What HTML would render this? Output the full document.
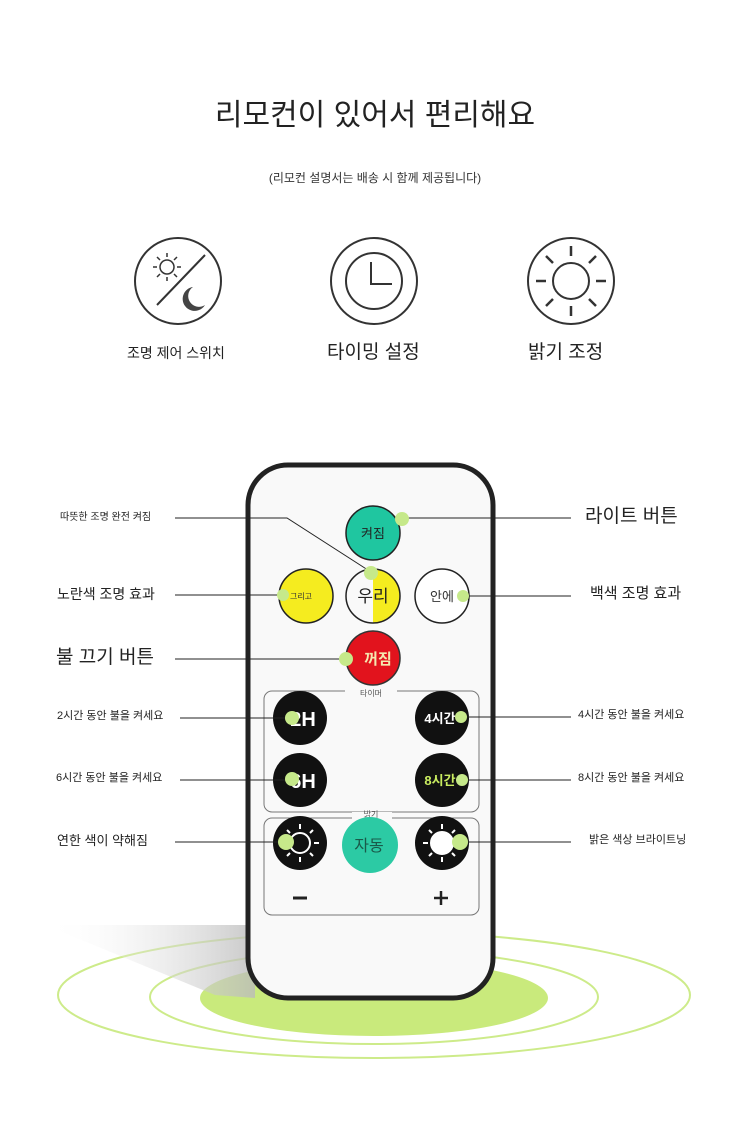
<!DOCTYPE html>
<html><head><meta charset="utf-8"><style>
html,body{margin:0;padding:0;background:#fff;}
body{width:750px;height:1144px;position:relative;overflow:hidden;font-family:"Liberation Sans","Noto Sans CJK KR","NanumGothic",sans-serif;color:#222;}
.t{position:absolute;white-space:nowrap;line-height:1;}
</style></head><body>
<div class="t" style="left:0;width:750px;text-align:center;top:101px;font-size:30px;color:#222;">리모컨이 있어서 편리해요</div>
<div class="t" style="left:0;width:750px;text-align:center;top:172px;font-size:12px;color:#333;">(리모컨 설명서는 배송 시 함께 제공됩니다)</div>
<div class="t" style="left:127px;top:346px;font-size:14px;">조명 제어 스위치</div>
<div class="t" style="left:327px;top:343px;font-size:19px;">타이밍 설정</div>
<div class="t" style="left:528px;top:343px;font-size:19px;">밝기 조정</div>

<svg width="750" height="1144" style="position:absolute;left:0;top:0" xmlns="http://www.w3.org/2000/svg">
<defs><linearGradient id="sh" x1="0" x2="1" y1="0" y2="0"><stop offset="0" stop-color="#fff" stop-opacity="0"/><stop offset="1" stop-color="#bbb"/></linearGradient></defs>
<g fill="none" stroke="#333" stroke-width="2">
<circle cx="178" cy="281" r="43"/>
<circle cx="374" cy="281" r="43"/>
<circle cx="571" cy="281" r="43"/>
<line x1="157" y1="305" x2="205" y2="255"/>
<circle cx="167" cy="267" r="7" stroke-width="1.5"/>
<g stroke-width="1.5"><line x1="167" y1="253" x2="167" y2="257"/><line x1="167" y1="277" x2="167" y2="281"/><line x1="153" y1="267" x2="157" y2="267"/><line x1="177" y1="267" x2="181" y2="267"/><line x1="157" y1="257" x2="160" y2="260"/><line x1="174" y1="274" x2="177" y2="277"/><line x1="157" y1="277" x2="160" y2="274"/><line x1="174" y1="260" x2="177" y2="257"/></g>
<circle cx="374" cy="281" r="28"/>
<polyline points="371,262 371,284 392,284"/>
<circle cx="571" cy="281" r="18"/>
<g stroke-width="2.5"><line x1="571" y1="246" x2="571" y2="256"/><line x1="571" y1="306" x2="571" y2="316"/><line x1="536" y1="281" x2="546" y2="281"/><line x1="596" y1="281" x2="606" y2="281"/><line x1="546" y1="256" x2="553" y2="263"/><line x1="589" y1="299" x2="596" y2="306"/><line x1="546" y1="306" x2="553" y2="299"/><line x1="589" y1="263" x2="596" y2="256"/></g>
</g>
<path d="M193 287 A12 12 0 1 0 205 305 A10 10 0 0 1 193 287Z" fill="#444"/>

<!-- ground -->
<ellipse cx="374" cy="995" rx="316" ry="63" fill="none" stroke="#cdeb8a" stroke-width="2"/>
<ellipse cx="374" cy="997" rx="224" ry="47" fill="none" stroke="#cdeb8a" stroke-width="2"/>
<ellipse cx="374" cy="998" rx="174" ry="38" fill="#c9ea7c"/>
<polygon points="45,925 255,925 255,998 215,995" fill="url(#sh)" opacity="0.8"/>

<!-- remote -->
<rect x="248" y="465" width="245" height="533" rx="40" fill="#f9f9f9" stroke="#222" stroke-width="5"/>
<rect x="264" y="691" width="215" height="121" rx="8" fill="none" stroke="#777" stroke-width="1"/>
<rect x="264" y="818" width="215" height="97" rx="8" fill="none" stroke="#777" stroke-width="1"/>
<rect x="345" y="686" width="52" height="10" fill="#f9f9f9"/>
<rect x="352" y="812" width="40" height="10" fill="#f9f9f9"/>
<text x="371" y="696" font-size="8" text-anchor="middle" fill="#555">타이머</text>
<text x="371" y="817" font-size="8" text-anchor="middle" fill="#555">밝기</text>

<circle cx="373" cy="533" r="27" fill="#1fc6a0" stroke="#222" stroke-width="1.5"/>
<circle cx="306" cy="596" r="27" fill="#f5ec1f" stroke="#222" stroke-width="1.5"/>
<path d="M373 569 A27 27 0 0 1 373 623Z" fill="#f5ec1f"/>
<circle cx="373" cy="596" r="27" fill="none" stroke="#222" stroke-width="1.5"/>
<circle cx="442" cy="596" r="27" fill="#fff" stroke="#222" stroke-width="1.5"/>
<circle cx="373" cy="658" r="27" fill="#e2131d" stroke="#333" stroke-width="1.5"/>
<circle cx="300" cy="718" r="27" fill="#111"/>
<circle cx="442" cy="718" r="27" fill="#111"/>
<circle cx="300" cy="780" r="27" fill="#111"/>
<circle cx="442" cy="780" r="27" fill="#111"/>
<circle cx="300" cy="843" r="27" fill="#111"/>
<circle cx="370" cy="845" r="28" fill="#2ccaa4"/>
<circle cx="442" cy="843" r="27" fill="#111"/>
<g stroke="#fff" stroke-width="2">
<circle cx="300" cy="843" r="10" fill="none"/>
<circle cx="442" cy="843" r="11" fill="#fff"/>
<g transform="translate(300,843)"><line x1="0" y1="-14" x2="0" y2="-19"/><line x1="0" y1="14" x2="0" y2="19"/><line x1="-14" y1="0" x2="-19" y2="0"/><line x1="14" y1="0" x2="19" y2="0"/><line x1="10" y1="10" x2="13" y2="13"/><line x1="-10" y1="-10" x2="-13" y2="-13"/><line x1="10" y1="-10" x2="13" y2="-13"/><line x1="-10" y1="10" x2="-13" y2="13"/></g>
<g transform="translate(442,843)"><line x1="0" y1="-14" x2="0" y2="-19"/><line x1="0" y1="14" x2="0" y2="19"/><line x1="-14" y1="0" x2="-19" y2="0"/><line x1="14" y1="0" x2="19" y2="0"/><line x1="10" y1="10" x2="13" y2="13"/><line x1="-10" y1="-10" x2="-13" y2="-13"/><line x1="10" y1="-10" x2="13" y2="-13"/><line x1="-10" y1="10" x2="-13" y2="13"/></g>
</g>
<g font-family="Liberation Sans, Noto Sans CJK KR, sans-serif" text-anchor="middle">
<text x="373" y="538" font-size="13" fill="#222">켜짐</text>
<text x="301" y="599" font-size="8" fill="#333">그리고</text>
<text x="373" y="602" font-size="17" fill="#222">우리</text>
<text x="442" y="601" font-size="13" fill="#333">안에</text>
<text x="378" y="664" font-size="15" font-weight="bold" fill="#f4e8b0">꺼짐</text>
<text x="303" y="726" font-size="20" font-weight="bold" fill="#fff">2H</text>
<text x="440" y="723" font-size="13" font-weight="bold" fill="#fff">4시간</text>
<text x="303" y="788" font-size="20" font-weight="bold" fill="#fff">6H</text>
<text x="440" y="785" font-size="13" font-weight="bold" fill="#c9ec60">8시간</text>
<text x="369" y="851" font-size="16" fill="#1a5a4a">자동</text>
</g>
<line x1="293" y1="898" x2="307" y2="898" stroke="#222" stroke-width="3"/>
<line x1="434" y1="898" x2="448" y2="898" stroke="#222" stroke-width="2.5"/>
<line x1="441" y1="891" x2="441" y2="905" stroke="#222" stroke-width="2.5"/>

<!-- connectors -->
<g stroke="#222" stroke-width="1" fill="none">
<polyline points="175,518 287,518 371,572"/>
<line x1="175" y1="595" x2="286" y2="595"/>
<line x1="175" y1="659" x2="345" y2="659"/>
<line x1="180" y1="718" x2="290" y2="718"/>
<line x1="180" y1="780" x2="290" y2="780"/>
<line x1="175" y1="842" x2="285" y2="842"/>
<line x1="402" y1="518" x2="571" y2="518"/>
<line x1="465" y1="596" x2="571" y2="596"/>
<line x1="462" y1="717" x2="571" y2="717"/>
<line x1="462" y1="780" x2="571" y2="780"/>
<line x1="462" y1="842" x2="571" y2="842"/>
</g>
<g fill="#c6e98a">
<circle cx="402" cy="519" r="7"/>
<circle cx="371" cy="573" r="7"/>
<circle cx="283" cy="595" r="6"/>
<circle cx="463" cy="596" r="6"/>
<circle cx="346" cy="659" r="7"/>
<circle cx="292" cy="718" r="7"/>
<circle cx="292" cy="779" r="7"/>
<circle cx="286" cy="842" r="8"/>
<circle cx="461" cy="717" r="6"/>
<circle cx="462" cy="780" r="6"/>
<circle cx="460" cy="842" r="8"/>
</g>
</svg>

<div class="t" style="left:60px;top:513px;font-size:10px;">따뜻한 조명 완전 켜짐</div>
<div class="t" style="left:57px;top:587px;font-size:14px;">노란색 조명 효과</div>
<div class="t" style="left:56px;top:648px;font-size:19px;">불 끄기 버튼</div>
<div class="t" style="left:57px;top:711px;font-size:11px;">2시간 동안 불을 켜세요</div>
<div class="t" style="left:56px;top:773px;font-size:11px;">6시간 동안 불을 켜세요</div>
<div class="t" style="left:57px;top:834px;font-size:13px;">연한 색이 약해짐</div>
<div class="t" style="left:585px;top:507px;font-size:19px;">라이트 버튼</div>
<div class="t" style="left:590px;top:586px;font-size:15px;">백색 조명 효과</div>
<div class="t" style="left:578px;top:710px;font-size:11px;">4시간 동안 불을 켜세요</div>
<div class="t" style="left:578px;top:773px;font-size:11px;">8시간 동안 불을 켜세요</div>
<div class="t" style="left:589px;top:835px;font-size:11px;">밝은 색상 브라이트닝</div>
</body></html>
